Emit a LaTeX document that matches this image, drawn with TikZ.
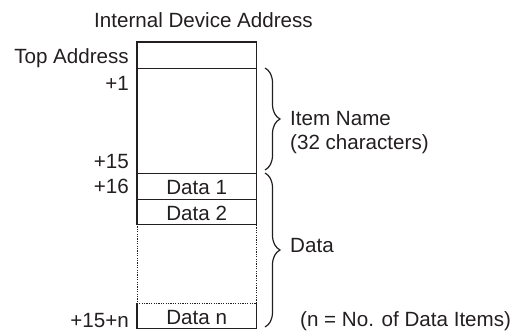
\documentclass[tikz,border=0pt]{standalone}
\usepackage{fontspec}
\setmainfont{Liberation Sans}
\usetikzlibrary{decorations.pathreplacing}
\definecolor{ink}{HTML}{231F20}
\begin{document}
\begin{tikzpicture}[x=1pt,y=-1pt,
  every node/.style={text=ink,font=\fontsize{20.6}{24}\selectfont,inner sep=0pt},
  cell/.style={minimum width=119pt,anchor=north west},
  lbl/.style={anchor=base east},
  rlbl/.style={anchor=base west,align=left},
  edge/.style={draw=ink,line width=1.1pt},
  dotline/.style={draw=ink,line width=0.9pt,dash pattern=on 1.2pt off 1.2pt},
  bracestyle/.style={draw=ink,line width=1.2pt,decorate,decoration={brace,amplitude=15pt}}]
\useasboundingbox (0,0) rectangle (515,330);
\node (title) [anchor=base] at (203.5,27) {Internal Device Address};
% cells
\node (top)   [cell,minimum height=26pt]  at (137,42)  {};
\node (item)  [cell,minimum height=105pt] at (137,68)  {};
\node (d1)    [cell,minimum height=26pt]  at (137,173) {};
\node (d2)    [cell,minimum height=25pt]  at (137,199) {};
\node (gap)   [cell,minimum height=79pt]  at (137,224) {};
\node (dn)    [cell,minimum height=25pt]  at (137,303) {};
\node [anchor=base] at ([yshift=4.5pt]d1.south) {Data 1};
\node [anchor=base] at ([yshift=4pt]d2.south) {Data 2};
\node [anchor=base] at ([yshift=3.5pt]dn.south) {Data n};
% borders
\draw[edge] (top.north west) rectangle (d2.south east);
\draw[edge] (top.south west) -- (top.south east);
\draw[edge,line width=1.8pt] (item.south west) -- (item.south east);
\draw[edge] (d1.south west) -- (d1.south east);
\draw[dotline] (gap.north west) -- (gap.south west) -- (gap.south east) -- (gap.north east);
\draw[edge] (dn.north west) -- (dn.south west) -- (dn.south east) -- (dn.north east);
% left labels
\node (lt) [lbl] at (129,63) {Top Address};
\node (l1) [lbl] at (129,90) {+1};
\node (l15) [lbl] at (129,168) {+15};
\node (l16) [lbl] at (129,193) {+16};
\node (ln) [lbl] at (129,327) {+15+n};
% braces
\coordinate (b1s) at (265,68);
\coordinate (b1e) at (265,170);
\coordinate (b2s) at (265,173);
\coordinate (b2e) at (265,327);
\draw[bracestyle] (b1s) -- (b1e);
\draw[bracestyle] (b2s) -- (b2e);
\node (iname) [rlbl] at (290,125) {Item Name};
\node (ichars) [rlbl] at (290,149) {(32 characters)};
\node (dlabel) [rlbl] at (290,252) {Data};
\node (note) [rlbl] at (300,326) {(n = No. of Data Items)};
\end{tikzpicture}
\end{document}
